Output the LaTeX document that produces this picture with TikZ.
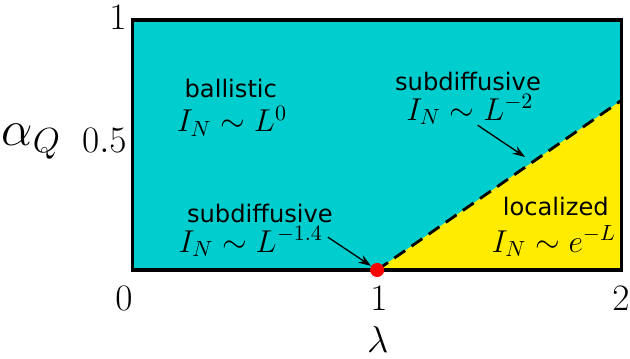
\documentclass[tikz,border=0pt]{standalone}
\usepackage{fix-cm}
\usepackage{fontspec}
\setsansfont{DejaVu Sans}
\usetikzlibrary{arrows.meta,positioning}
\definecolor{ball}{RGB}{0,206,206}
\definecolor{loc}{RGB}{255,236,0}
\tikzset{
  regime/.style={font=\sffamily\fontsize{11}{13}\selectfont,anchor=base,inner sep=0pt},
  law/.style={font=\fontsize{14.4}{17}\selectfont,anchor=base,inner sep=0pt},
  tick/.style={font=\fontsize{17}{20}\selectfont,inner sep=0pt},
  arr/.style={-{Stealth[length=2mm,width=1.4mm]},line width=0.6pt}
}
\begin{document}
\begin{tikzpicture}[x=3.916cm,y=4cm]
\useasboundingbox (-0.541,-0.352) rectangle (2.033,1.08);
% phases
\fill[ball] (0,0) rectangle (2,1);
\fill[loc] (1,0) -- (2,0.68) -- (2,0) -- cycle;
\coordinate (edge) at (2,0.68);
\draw[line width=1.3pt,dash pattern=on 6pt off 3.5pt] (1,0) -- (edge);
\draw[line width=1.4pt] (0,0) rectangle (2,1);
\node[circle,fill=red,inner sep=0pt,minimum size=6.4pt] (crit) at (1,0) {};
% regimes
\node[regime] (ballist) at (0.402,0.692) {ballistic};
\node[law] (law0) at (0.407,0.553) {$I_N\sim L^{0}$};
\node[regime] (subtop) at (1.371,0.72) {subdiffusive};
\node[law] (lawtop) at (1.379,0.6) {$I_N\sim L^{-2}$};
\node[regime] (subbot) at (0.521,0.192) {subdiffusive};
\node[law] (lawbot) at (0.484,0.072) {$I_N\sim L^{-1.4}$};
\node[regime] (local) at (1.730,0.22) {localized};
\node[law] (lawloc) at (1.722,0.072) {$I_N\sim e^{-L}$};
\coordinate (tip) at (1.604,0.452);
\draw[arr] ([xshift=3.5pt]lawtop.south) -- (tip);
\draw[arr] ([shift={(2pt,2pt)}]lawbot.east) -- (crit);
% axes
\foreach \n/\x in {0/-0.035,1/1.007,2/1.996}
  \node[tick] (x\n) at (\x,-0.114) {$\n$};
\node[tick] (y1) at (-0.059,1.012) {$1$};
\node[tick,anchor=base east] (yhalf) at (-0.022,0.472) {$0.5$};
\node[tick] (xlab) at (1.003,-0.28) {$\lambda$};
\node[font=\fontsize{22.7}{26}\selectfont,anchor=base west,inner sep=0pt] (ylab) at (-0.535,0.5) {$\alpha_Q$};
\end{tikzpicture}
\end{document}
